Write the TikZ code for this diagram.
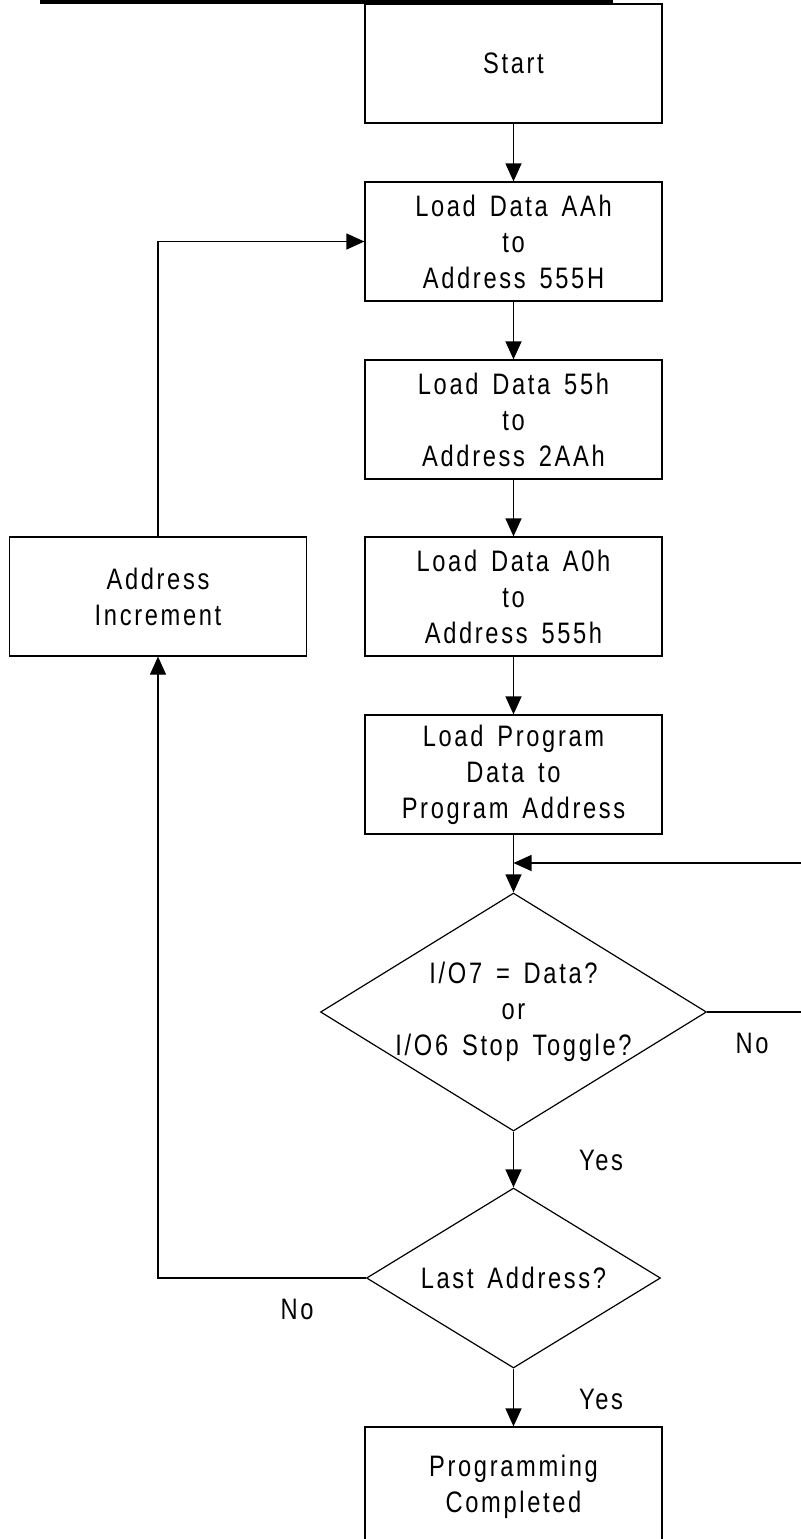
\documentclass[tikz,border=0pt]{standalone}
\usepackage{fontspec}
\setmainfont{Liberation Sans}[FakeStretch=0.8,LetterSpace=9,WordSpace=1.5]
\usetikzlibrary{shapes.geometric, arrows.meta}
\tikzset{
  chartfont/.style={font=\fontsize{14.8pt}{18pt}\selectfont},
  stepbox/.style={draw, line width=0.6pt, minimum width=148.5pt, minimum height=59.5pt,
    inner sep=0pt, align=center, chartfont},
  decision/.style={draw, diamond, line width=0.6pt, inner xsep=-15pt, inner ysep=0pt,
    aspect=1.62, align=center, chartfont},
  flow/.style={line width=0.6pt, -{Triangle[length=9pt,width=8pt]}},
  lbl/.style={chartfont}
}

\begin{document}
\begin{tikzpicture}[x=0.5pt, y=-0.5pt]
  \clip (0,0) rectangle (801,1539);
  % heading underline (cut off)
  \fill (40,0) rectangle (613,3.5);

  \node[stepbox] (start) at (513.5,63.5) {Start};
  \node[stepbox] (cmdA) at (513.5,241.5) {Load Data AAh\\to\\Address 555H};
  \node[stepbox] (cmdB) at (513.5,419.5) {Load Data 55h\\to\\Address 2AAh};
  \node[stepbox] (cmdC) at (513.5,596.5) {Load Data A0h\\to\\Address 555h};
  \node[stepbox] (prog) at (513.5,774.5) {Load Program\\Data to\\Program Address};
  \node[decision, minimum width=193pt, minimum height=119pt] (poll) at (513.5,1012)
    {I/O7 = Data?\\or\\I/O6 Stop Toggle?};
  \node[decision, minimum width=147pt, minimum height=90pt] (last) at (513.5,1278)
    {Last Address?};
  \node[stepbox] (done) at (513.5,1486.5) {Programming\\Completed};
  \node[stepbox] (incr) at (158,596.5) {Address\\Increment};
  \coordinate (merge) at (513.5,863);

  \draw[flow] (start) -- (cmdA);
  \draw[flow] (cmdA) -- (cmdB);
  \draw[flow] (cmdB) -- (cmdC);
  \draw[flow] (cmdC) -- (prog);
  \draw[flow] (prog) -- (poll);
  \draw[flow] (poll.east) -- ++(130,0) |- (merge);
  \draw[flow] (poll) -- (last);
  \draw[flow] (last) -- (done);
  \draw[flow] (last.west) -| (incr.south);
  \draw[flow] (incr.north) |- (cmdA.west);

  \node[lbl] (noA) at (752,1043) {No};
  \node[lbl] (yesA) at (601,1160) {Yes};
  \node[lbl] (noB) at (297,1309) {No};
  \node[lbl] (yesB) at (601,1399) {Yes};
\end{tikzpicture}
\end{document}
